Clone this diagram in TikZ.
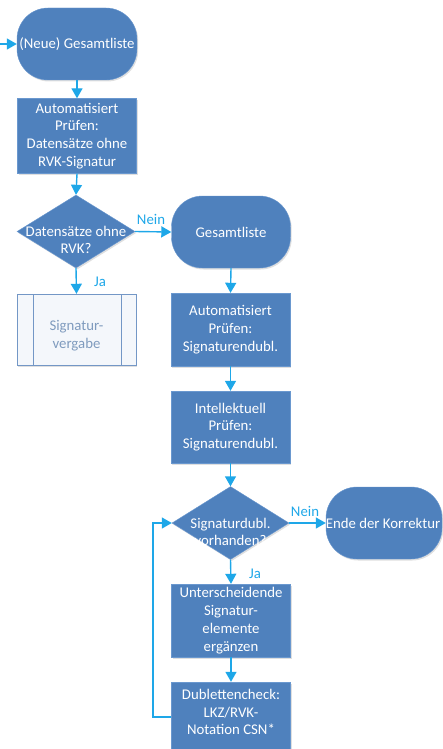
\documentclass[tikz,border=0pt]{standalone}
\usepackage{fontspec}
\setmainfont{Carlito}
\usetikzlibrary{shapes.geometric,arrows.meta,shadows}
\definecolor{shapefill}{HTML}{4F81BD}
\definecolor{shapeedge}{HTML}{6A98CF}
\definecolor{flow}{HTML}{1EA7E8}
\definecolor{subfill}{HTML}{F4F7FB}
\definecolor{subedge}{HTML}{7397C6}
\definecolor{subtext}{HTML}{7F9BBE}
\tikzset{
  x=1pt, y=-1pt,
  every node/.style={font=\fontsize{14.8pt}{17.8pt}\selectfont},
  soft/.style={drop shadow={opacity=0.25, shadow xshift=1.2pt, shadow yshift=-1.5pt}},
  terminal/.style={draw=shapeedge, fill=shapefill, text=white, rounded corners=31pt,
    minimum width=120pt, minimum height=72pt, inner sep=0pt, align=center, soft},
  procbox/.style={draw=shapeedge, fill=shapefill, text=white, minimum width=119pt,
    minimum height=74pt, inner sep=0pt, align=center, soft},
  decision/.style={diamond, draw=shapeedge, fill=shapefill, minimum width=118pt,
    minimum height=73pt, inner sep=0pt, soft},
  dectext/.style={text=white, align=center},
  subproc/.style={draw=subedge, fill=subfill, minimum width=119pt, minimum height=71pt,
    inner sep=0pt, soft},
  flowline/.style={draw=flow, line width=1.4pt, -{Triangle[length=10pt,width=11pt]}},
  flowlabel/.style={text=flow}
}
\begin{document}
\begin{tikzpicture}
\useasboundingbox (0,0) rectangle (442,749);

% left column
\node[terminal] (start) at (77,44) {(Neue) Gesamtliste};
\node[procbox, minimum height=75pt] (check1) at (77,136) {Automatisiert\\Prüfen:\\Datensätze ohne\\RVK-Signatur};
\node[decision] (dec1) at (76,231.5) {};
\node[dectext] at (76,240) {Datensätze ohne\\RVK?};
\node[subproc] (sig) at (76.5,329.5) {};
\draw[subedge] (33,294) -- (33,365) (121,294) -- (121,365);
\node[text=subtext, align=center] (sigtext) at (76.5,336) {Signatur-\\vergabe};

% right column
\node[terminal, minimum width=119pt] (gesamt) at (231,232) {Gesamtliste};
\node[procbox, minimum height=73pt] (check2) at (230.5,329.5) {Automatisiert\\Prüfen:\\Signaturendubl.};
\node[procbox, minimum height=72pt] (check3) at (230.5,427) {Intellektuell\\Prüfen:\\Signaturendubl.};
\node[decision, minimum width=117pt] (dec2) at (230.5,523) {};
\node[dectext] at (230.5,532) {Signaturdubl.\\vorhanden?};
\node[terminal, minimum width=116pt] (ende) at (384,523) {};
\node[text=white] at (383,523) {Ende der Korrektur};
\node[procbox, minimum height=73pt] (ergaenzen) at (231,620.5) {Unterscheidende\\Signatur-\\elemente\\ergänzen};
\node[procbox, minimum height=72pt] (dubl) at (231,718) {};
\node[text=white, align=center] at (231,712) {Dublettencheck:\\LKZ/RVK-\\Notation CSN*};

% connectors
\coordinate (entry) at (0,44);
\coordinate (loopbottom) at (153,717);
\coordinate (looptop) at (153,523);
\draw[flowline] (entry) -- (start.west);
\draw[flowline] (start.south) -- (check1.north);
\draw[flowline] (check1.south) -- (dec1.north);
\draw[flowline] (dec1.east) -- (gesamt.west);
\draw[flowline] (dec1.south) -- (sig.north);
\draw[flowline] (gesamt.south) -- (check2.north);
\draw[flowline] (check2.south) -- (check3.north);
\draw[flowline] (check3.south) -- (dec2.north);
\draw[flowline] (dec2.east) -- (ende.west);
\draw[flowline] (dec2.south) -- (ergaenzen.north);
\draw[flowline] (ergaenzen.south) -- (dubl.north);
\draw[flowline] (dubl.west |- loopbottom) -- (loopbottom) -- (looptop) -- (dec2.west);

% branch labels
\node[flowlabel] at (151,219) {Nein};
\node[flowlabel] at (100,282) {Ja};
\node[flowlabel] at (305,511) {Nein};
\node[flowlabel] at (255,574) {Ja};
\end{tikzpicture}
\end{document}
